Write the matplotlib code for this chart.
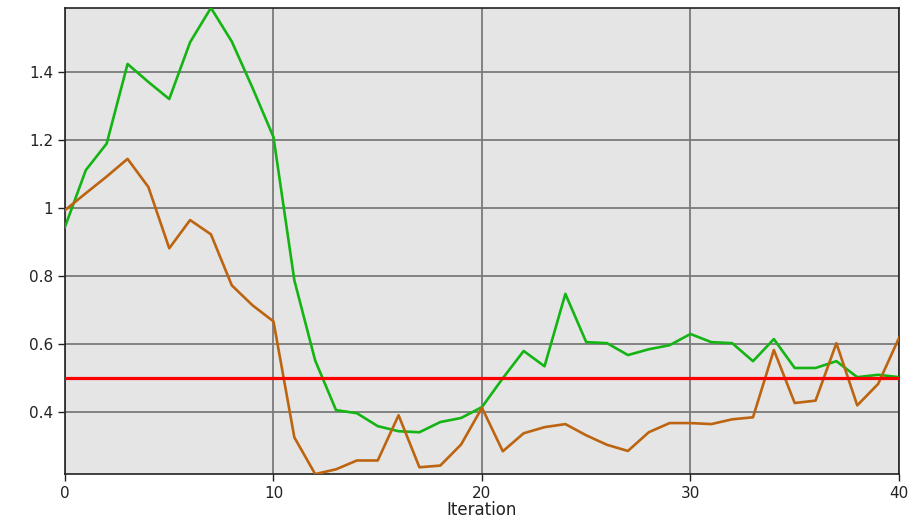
import matplotlib
matplotlib.use("Agg")
import matplotlib.pyplot as plt
from matplotlib.ticker import FuncFormatter

# Data
iteration = list(range(41))
green = [0.945, 1.112, 1.19, 1.424, 1.371, 1.321, 1.488, 1.589, 1.49, 1.353,
         1.209, 0.788, 0.552, 0.406, 0.397, 0.359, 0.344, 0.341, 0.371, 0.383,
         0.415, 0.5, 0.58, 0.535, 0.748, 0.606, 0.603, 0.568, 0.585, 0.597,
         0.63, 0.606, 0.603, 0.55, 0.615, 0.53, 0.53, 0.55, 0.503, 0.51, 0.503]
orange = [0.994, 1.044, 1.093, 1.145, 1.062, 0.882, 0.965, 0.923, 0.773, 0.714,
          0.667, 0.326, 0.218, 0.232, 0.258, 0.258, 0.391, 0.238, 0.243, 0.305,
          0.413, 0.285, 0.338, 0.356, 0.365, 0.332, 0.304, 0.286, 0.341, 0.368,
          0.368, 0.365, 0.379, 0.385, 0.583, 0.427, 0.434, 0.603, 0.42, 0.483, 0.618]
target = 0.5
x_ticks = [0, 10, 20, 30, 40]
y_ticks = [0.4, 0.6, 0.8, 1.0, 1.2, 1.4]

# Create plot
fig = plt.figure(figsize=(9.22, 5.25), dpi=100)
ax = fig.add_axes([0.0705, 0.097, 0.9045, 0.888])
ax.set_facecolor("#e5e5e5")

# Plot lines
ax.plot(iteration, green, color="#14b414", linewidth=1.9, zorder=3)
ax.plot(iteration, orange, color="#bc640f", linewidth=1.9, zorder=3)
ax.axhline(target, color="#ff0000", linewidth=2.3, zorder=4)

# Axes styling
ax.set_xlim(0, 40)
ax.set_ylim(min(orange + green), max(orange + green))
ax.set_xticks(x_ticks)
ax.set_yticks(y_ticks)
ax.yaxis.set_major_formatter(FuncFormatter(lambda v, p: "%g" % v))
ax.grid(True, color="#7a7a7a", linewidth=1.3)
ax.set_axisbelow(True)
for s in ax.spines.values():
    s.set_color("#222222")
    s.set_linewidth(1.2)
ax.tick_params(direction="out", length=5, width=1, colors="#222222", labelsize=11)
ax.set_xlabel("Iteration", fontsize=12, labelpad=0, color="#222222")

plt.savefig("out.png", dpi=100)
